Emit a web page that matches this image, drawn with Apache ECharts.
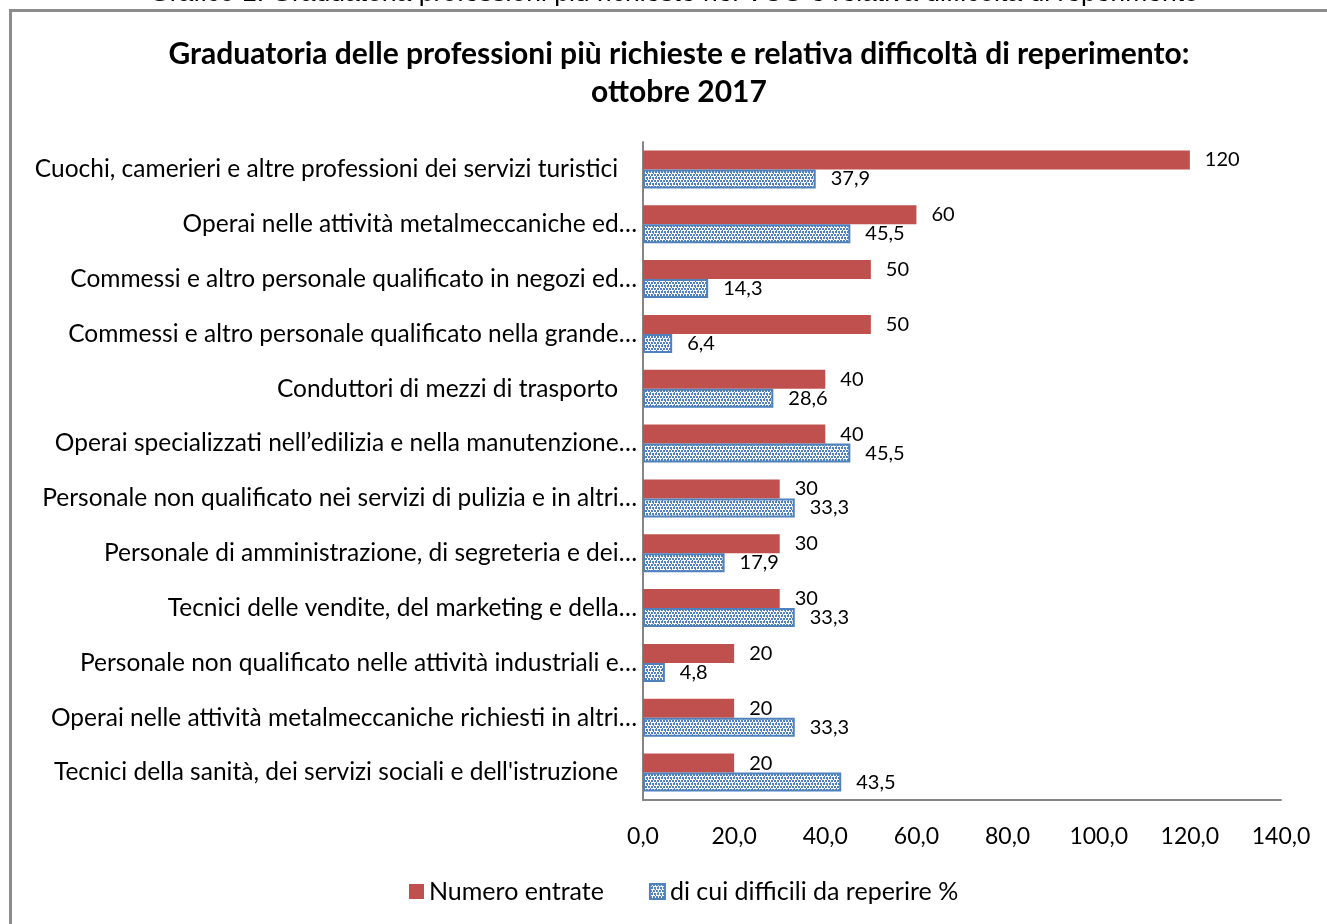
<!DOCTYPE html>
<html>
<head>
<meta charset="utf-8">
<script src="https://cdn.jsdelivr.net/npm/echarts@6/dist/echarts.min.js"></script>
<style>
html,body{margin:0;padding:0;background:#fff;}
#c{width:1327px;height:924px;}
</style>
</head>
<body>
<div id="c"></div>
<script>
const categories = [
  "Cuochi, camerieri e altre professioni dei servizi turistici",
  "Operai nelle attività metalmeccaniche ed…",
  "Commessi e altro personale qualificato in negozi ed…",
  "Commessi e altro personale qualificato nella grande…",
  "Conduttori di mezzi di trasporto",
  "Operai specializzati nell’edilizia e nella manutenzione…",
  "Personale non qualificato nei servizi di pulizia e in altri…",
  "Personale di amministrazione, di segreteria e dei…",
  "Tecnici delle vendite, del marketing e della…",
  "Personale non qualificato nelle attività industriali e…",
  "Operai nelle attività metalmeccaniche richiesti in altri…",
  "Tecnici della sanità, dei servizi sociali e dell'istruzione"
];
const numeroEntrate = [120, 60, 50, 50, 40, 40, 30, 30, 30, 20, 20, 20];
const difficiliPct = [37.9, 45.5, 14.3, 6.4, 28.6, 45.5, 33.3, 17.9, 33.3, 4.8, 33.3, 43.5];
const seriesNames = ["Numero entrate", "di cui difficili da reperire %"];
const titleLines = ["Graduatoria delle professioni più richieste e relativa difficoltà di reperimento:", "ottobre 2017"];
const captionText = "Grafico 1: Graduatoria professioni più richieste nel VCO e relativa difficoltà di reperimento";

// dotted pattern for the second series
const tile = document.createElement('canvas');
tile.width = 6; tile.height = 6;
const tc = tile.getContext('2d');
tc.fillStyle = '#ffffff'; tc.fillRect(0,0,6,6);
tc.fillStyle = '#4f81bd';
tc.fillRect(0,0,2,2); tc.fillRect(3,0,2,2);
tc.fillRect(1,3,2,2); tc.fillRect(4,3,2,2);
tc.fillRect(2,2,1,1); tc.fillRect(5,5,1,1);

const fmt = v => v.toFixed(1).replace('.', ',');
const font = 'Lato';

const chart = echarts.init(document.getElementById('c'), null, {renderer:'canvas'});
chart.setOption({
  backgroundColor: '#ffffff',
  animation: false,
  textStyle: { fontFamily: font },
  title: {
    text: titleLines.join('\n'),
    left: 674, top: 30, textAlign: 'center',
    textStyle: { fontFamily: font, fontSize: 30, fontWeight: 'bold', color: '#000', lineHeight: 38 }
  },
  graphic: [
    { type: 'rect', shape: { x: 10.5, y: 10.5, width: 1340, height: 940 },
      style: { fill: null, stroke: '#8c8c8c', lineWidth: 3 }, silent: true },
    { type: 'text', x: 674, y: -6, style: { text: captionText, fontFamily: 'Liberation Sans', fontSize: 26.5,
      fill: '#000', textAlign: 'center', textVerticalAlign: 'middle' } }
  ],
  legend: {
    left: 404, top: 874, itemWidth: 15, itemHeight: 15, itemGap: 45,
    icon: 'rect',
    textStyle: { fontFamily: font, fontSize: 25, color: '#000' },
    data: seriesNames
  },
  grid: { left: 643, top: 142, right: 46, bottom: 124, containLabel: false },
  xAxis: {
    type: 'value', min: 0, max: 140, interval: 20,
    axisLine: { show: true, lineStyle: { color: '#868686', width: 2 } },
    axisTick: { show: false },
    splitLine: { show: false },
    axisLabel: { formatter: fmt, fontFamily: font, fontSize: 23, color: '#000', margin: 25 }
  },
  yAxis: {
    type: 'category', inverse: true, data: categories,
    axisLine: { show: true, lineStyle: { color: '#868686', width: 2 } },
    axisTick: { show: false },
    axisLabel: { fontFamily: font, fontSize: 24.5, color: '#000', margin: 6,
      formatter: s => s.endsWith('…') ? s : s + '   ' }
  },
  series: [
    { name: seriesNames[0], type: 'bar', data: numeroEntrate, barWidth: 19, barGap: '0%',
      itemStyle: { color: '#c0504d' },
      label: { show: true, position: 'right', distance: 15, fontFamily: font, fontSize: 20, color: '#000' } },
    { name: seriesNames[1], type: 'bar', data: difficiliPct, barWidth: 19,
      itemStyle: { color: { image: tile, repeat: 'repeat' }, borderColor: '#4f81bd', borderWidth: 2 },
      label: { show: true, position: 'right', distance: 15, fontFamily: font, fontSize: 20, color: '#000',
        formatter: p => fmt(p.value) } }
  ]
});
</script>
</body>
</html>
